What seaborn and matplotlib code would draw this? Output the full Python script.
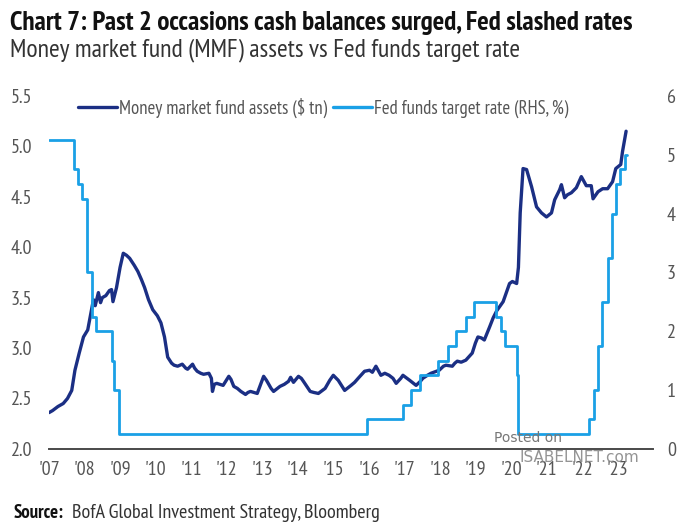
import numpy as np
import pandas as pd
import seaborn as sns
import matplotlib.pyplot as plt
from matplotlib.lines import Line2D

# --- datos ---
mmf_year = [2007.00, 2007.10, 2007.25, 2007.40, 2007.52, 2007.64, 2007.73, 2007.85, 2007.97,
            2008.09, 2008.18, 2008.25, 2008.30, 2008.39, 2008.45, 2008.50, 2008.60, 2008.70,
            2008.76, 2008.80, 2008.90, 2009.00, 2009.09, 2009.18, 2009.27, 2009.40, 2009.50,
            2009.60, 2009.69, 2009.80, 2009.92, 2010.05, 2010.15, 2010.25, 2010.34, 2010.45,
            2010.52, 2010.62, 2010.75, 2010.85, 2010.90, 2011.04, 2011.10, 2011.17, 2011.27,
            2011.35, 2011.50, 2011.57, 2011.60, 2011.65, 2011.72, 2011.90, 2012.06, 2012.12,
            2012.20, 2012.30, 2012.40, 2012.53, 2012.60, 2012.67, 2012.86, 2013.04, 2013.12,
            2013.25, 2013.32, 2013.50, 2013.62, 2013.74, 2013.80, 2013.88, 2014.02, 2014.10,
            2014.16, 2014.35, 2014.45, 2014.58, 2014.77, 2014.90, 2015.00, 2015.14, 2015.32,
            2015.50, 2015.60, 2015.70, 2015.88, 2016.02, 2016.10, 2016.20, 2016.34, 2016.45,
            2016.57, 2016.68, 2016.77, 2016.90, 2016.96, 2017.15, 2017.33, 2017.45, 2017.52,
            2017.65, 2017.75, 2017.90, 2017.98, 2018.10, 2018.17, 2018.35, 2018.42, 2018.49,
            2018.60, 2018.73, 2018.91, 2019.00, 2019.07, 2019.17, 2019.25, 2019.40, 2019.50,
            2019.60, 2019.78, 2019.96, 2020.04, 2020.16, 2020.21, 2020.26, 2020.34, 2020.44,
            2020.58, 2020.72, 2020.86, 2021.00, 2021.14, 2021.23, 2021.37, 2021.42, 2021.51,
            2021.59, 2021.70, 2021.84, 2021.98, 2022.12, 2022.26, 2022.31, 2022.45, 2022.58,
            2022.72, 2022.86, 2022.95, 2023.09, 2023.14, 2023.24]
mmf_val = [2.36, 2.38, 2.42, 2.45, 2.50, 2.58, 2.78, 2.95, 3.11,
           3.18, 3.35, 3.48, 3.42, 3.55, 3.45, 3.50, 3.52, 3.57,
           3.58, 3.46, 3.60, 3.80, 3.94, 3.92, 3.89, 3.82, 3.76,
           3.68, 3.60, 3.48, 3.38, 3.32, 3.25, 3.11, 2.91, 2.85,
           2.83, 2.82, 2.84, 2.80, 2.79, 2.84, 2.80, 2.77, 2.75,
           2.74, 2.75, 2.70, 2.57, 2.64, 2.65, 2.63, 2.72, 2.69,
           2.62, 2.60, 2.57, 2.54, 2.56, 2.57, 2.55, 2.72, 2.68,
           2.60, 2.57, 2.62, 2.64, 2.67, 2.71, 2.66, 2.72, 2.70,
           2.67, 2.57, 2.56, 2.55, 2.60, 2.68, 2.73, 2.68, 2.58,
           2.63, 2.66, 2.70, 2.77, 2.78, 2.76, 2.82, 2.73, 2.75,
           2.73, 2.70, 2.65, 2.70, 2.73, 2.68, 2.63, 2.67, 2.70,
           2.73, 2.75, 2.77, 2.78, 2.82, 2.83, 2.82, 2.85, 2.87,
           2.86, 2.88, 2.95, 3.05, 3.11, 3.10, 3.08, 3.21, 3.30,
           3.37, 3.46, 3.64, 3.66, 3.64, 3.80, 4.34, 4.78, 4.77,
           4.60, 4.40, 4.34, 4.30, 4.34, 4.47, 4.57, 4.62, 4.49,
           4.52, 4.54, 4.59, 4.70, 4.61, 4.61, 4.48, 4.55, 4.58,
           4.58, 4.65, 4.78, 4.82, 4.95, 5.15]

fed_year = [2007.00, 2007.71, 2007.83, 2007.94, 2008.06, 2008.08, 2008.21, 2008.33, 2008.77,
            2008.83, 2008.96, 2015.96, 2016.95, 2017.20, 2017.45, 2017.95, 2018.22, 2018.45,
            2018.74, 2018.97, 2019.58, 2019.71, 2019.83, 2020.17, 2020.20, 2022.21, 2022.34,
            2022.45, 2022.57, 2022.72, 2022.84, 2022.95, 2023.08, 2023.22, 2023.26]
fed_rate = [5.25, 4.75, 4.50, 4.25, 3.50, 3.00, 2.25, 2.00, 1.50,
            1.00, 0.25, 0.50, 0.75, 1.00, 1.25, 1.50, 1.75, 2.00,
            2.25, 2.50, 2.25, 2.00, 1.75, 1.25, 0.25, 0.50, 1.00,
            1.75, 2.50, 3.25, 4.00, 4.50, 4.75, 5.00, 5.00]

years = list(range(2007, 2024))
year_labels = ["'" + str(y)[2:] for y in years]

navy = '#1b2f84'
light = '#1aa0e6'
gris = '#555555'

sns.set_style('white')
# fuentes estrechas (la primera que exista)
plt.rcParams['font.family'] = ['PT Sans Narrow', 'Fira Sans Condensed', 'Roboto Condensed',
                               'Open Sans Condensed', 'Liberation Sans Narrow', 'DejaVu Sans']

fig = plt.figure(figsize=(7, 5.3), dpi=100)
ax = fig.add_axes([0.07, 0.153, 0.863, 0.666])
ax2 = ax.twinx()

sns.lineplot(x=mmf_year, y=mmf_val, ax=ax, color=navy, linewidth=2.4, sort=False)
sns.lineplot(x=fed_year, y=fed_rate, ax=ax2, color=light, linewidth=2.0,
             drawstyle='steps-post', sort=False)

ax.set_xlim(2007, 2024)
ax.set_ylim(2.0, 5.5)
ax2.set_ylim(0, 6)
ax.set_xticks(years)
ax.set_xticklabels(year_labels)
ax.set_yticks(np.arange(2.0, 5.51, 0.5))
ax.set_yticklabels([f'{v:.1f}' for v in np.arange(2.0, 5.51, 0.5)])
ax2.set_yticks(range(0, 7))

for a in (ax, ax2):
    for s in ['top', 'left', 'right', 'bottom']:
        a.spines[s].set_visible(False)
    a.set_xlabel('')
    a.set_ylabel('')
ax.spines['bottom'].set_visible(True)
ax.spines['bottom'].set_color('#4a4a4a')
ax.spines['bottom'].set_linewidth(1.4)

ax.tick_params(axis='x', length=0, pad=9, labelsize=14.5, labelcolor=gris)
ax.tick_params(axis='y', length=0, pad=12, labelsize=14.5, labelcolor=gris)
ax2.tick_params(axis='y', length=0, pad=10, labelsize=14.5, labelcolor=gris)

# leyenda arriba
handles = [Line2D([], [], color=navy, linewidth=2.4),
           Line2D([], [], color=light, linewidth=2.4)]
fig.legend(handles, ['Money market fund assets ($ tn)', 'Fed funds target rate (RHS, %)'],
           loc='center left', bbox_to_anchor=(0.111, 1 - 108 / 530), ncol=2, frameon=False,
           fontsize=13.5, labelcolor=gris, handlelength=2.1, handletextpad=0.1,
           columnspacing=0.3, borderaxespad=0, borderpad=0)

# titulos
fig.text(0.014, 1 - 30 / 530, 'Chart 7: Past 2 occasions cash balances surged, Fed slashed rates',
         fontsize=19.5, fontweight='bold', color='#111111', va='baseline')
fig.text(0.014, 1 - 56 / 530, 'Money market fund (MMF) assets vs Fed funds target rate',
         fontsize=18.5, color='#333333', va='baseline')

# fuente
fig.text(0.019, 1 - 518 / 530, 'Source:', fontsize=13.5, fontweight='bold',
         color='#111111', va='baseline')
fig.text(72 / 700, 1 - 518 / 530, 'BofA Global Investment Strategy, Bloomberg', fontsize=14.5,
         color='#333333', va='baseline')

# marca de agua
fig.text(0.705, 1 - 442 / 530, 'Posted on', fontsize=10, color='#777777',
         family='DejaVu Sans', va='baseline')
fig.text(0.742, 1 - 462 / 530, 'ISABELNET.com', fontsize=11, color='#888888',
         family='DejaVu Sans', va='baseline', alpha=0.9)

fig.savefig('out.png', dpi=100)
